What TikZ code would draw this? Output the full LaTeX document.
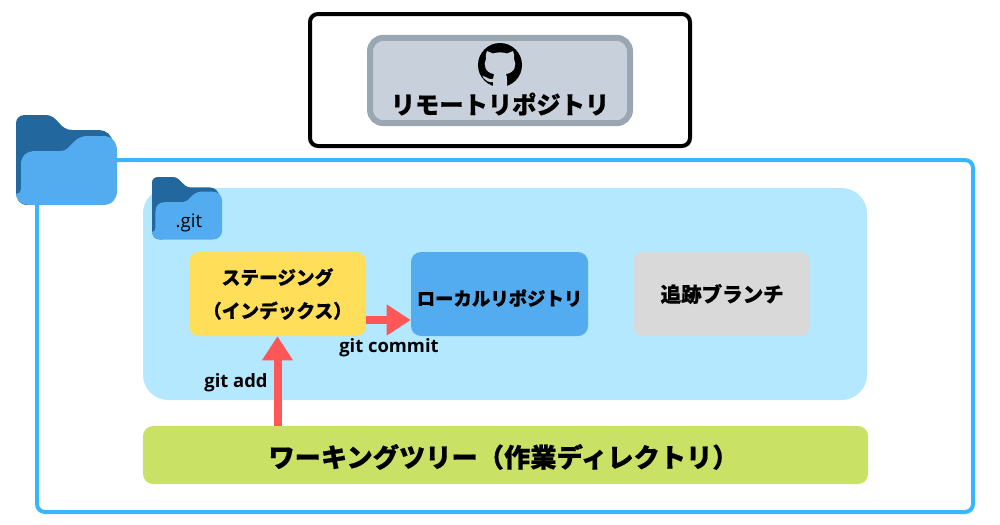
\documentclass[tikz,border=0pt]{standalone}
\usepackage{fontspec}
\setmainfont{Open Sans}
\newfontfamily\jp[BoldFeatures={FakeBold=0.6}]{Noto Sans CJK JP}
\usetikzlibrary{arrows.meta}
\definecolor{cblue}{HTML}{38B6FF}
\definecolor{cpale}{HTML}{B4E8FF}
\definecolor{cdark}{HTML}{22689F}
\definecolor{clight}{HTML}{54ACF0}
\definecolor{cyel}{HTML}{FFDE59}
\definecolor{cgrey}{HTML}{D9D9D9}
\definecolor{cgreen}{HTML}{C9E265}
\definecolor{cred}{HTML}{FF5757}
\definecolor{cslate}{HTML}{C7D0DB}
\definecolor{cslateb}{HTML}{9AA6B2}
\tikzset{
  jptext/.style={font=\jp\bfseries\fontsize{#1}{#1}\selectfont,text=black},
  box/.style={rounded corners=7.5pt,minimum width=132.75pt,minimum height=63pt,inner sep=0pt,align=center},
  lab/.style={font=\bfseries\fontsize{13.8pt}{16pt}\selectfont,inner sep=0pt,text=black},
  redarrow/.style={draw=cred,line width=6pt,-{Triangle[length=18pt,width=22pt]}},
  folder/.pic={
    \fill[cdark] (0,8) .. controls (0,3) and (4,0) .. (9,0) -- (30,0)
      .. controls (42,0) and (43,15) .. (56,15) -- (83,15)
      .. controls (90,15) and (96,20) .. (97,28) -- (60,80) -- (12,90) .. controls (3,90) and (0,84) .. (0,76) -- cycle;
    \fill[clight] (5,50) .. controls (5,41) and (10,36) .. (20,36) -- (45,36)
      .. controls (55,36) and (56,21) .. (72,21) -- (87,21)
      .. controls (96,21) and (101,27) .. (101,36) -- (101,76)
      .. controls (101,84) and (96,90) .. (87,90) -- (13,90)
      .. controls (6,90) and (0,85) .. (0,79) .. controls (3,79) and (5,77) .. (5,73) -- cycle;
  }
}
\begin{document}
\begin{tikzpicture}[x=0.75pt,y=-0.75pt]
\useasboundingbox (0,0) rectangle (1000,525);
% outer folder frame
\draw[cblue,line width=3pt,rounded corners=6pt] (37,160) rectangle (973,512);
\pic[scale=1] at (16,115) {folder};
% remote
\draw[black,line width=3pt,rounded corners=6pt] (310,14) rectangle (690,146);
\node[draw=cslateb,fill=cslate,line width=4.5pt,rounded corners=10pt,minimum width=195pt,minimum height=64pt,inner sep=0pt] (remote) at (500,80.5) {};
\node[jptext=18.2pt,inner sep=0pt] (remotetext) at (500,104) {リモートリポジトリ};
% github icon
\begin{scope}[shift={(500,65)}]
  \fill[black] (0,0) circle[radius=22];
  \fill[cslate] (-13,-14) -- (-7,-11.5) .. controls (-3,-13) and (3,-13) .. (7,-11.5) -- (13,-14)
    .. controls (14,-12) and (14.5,-9) .. (14,-6) .. controls (17,-1) and (15,8) .. (6,9)
    .. controls (7,11) and (7,13) .. (7,15) -- (7,22.5) -- (-7,22.5) -- (-7,17)
    .. controls (-12,18) and (-14,15) .. (-16.5,13) -- (-17.5,11) .. controls (-14,11) and (-12,15) .. (-7,14)
    .. controls (-7,12) and (-7,11) .. (-6,9) .. controls (-15,8) and (-17,-1) .. (-14,-6)
    .. controls (-14.5,-9) and (-14,-12) .. (-13,-14) -- cycle;
\end{scope}
% git container
\fill[cpale,rounded corners=19pt] (143,188) rectangle (867,400);
\pic[scale=0.695] at (152,177) {folder};
\node[lab,font=\fontsize{14pt}{16pt}\selectfont] (gitlabel) at (189,223) {.git};
\node[box,fill=cyel,jptext=14pt] (stage) at (277.5,294) {ステージング\\[11pt]（インデックス）};
\node[box,fill=clight,jptext=13.8pt] (local) at (499.5,294) {\raisebox{-3pt}[\height][\depth]{ローカルリポジトリ}};
\node[box,fill=cgrey,jptext=15.4pt] (track) at (721.5,294) {\hspace{1pt}追跡ブランチ};
\node[fill=cgreen,rounded corners=7.5pt,minimum width=543.75pt,minimum height=43.5pt,inner sep=0pt,jptext=19.7pt] (work) at (505.5,455) {\raisebox{-1.5pt}[\height][\depth]{\hspace{-3pt}ワーキングツリー（作業ディレクトリ）}};
\draw[redarrow] (work.north -| stage.south) -- (stage.south);
\draw[redarrow] ([yshift=-19.5pt]stage.east) -- ([yshift=-19.5pt]local.west);
\node[lab] (commit) at (389,348) {git commit};
\node[lab] (add) at (236,383) {git add};
\end{tikzpicture}
\end{document}
